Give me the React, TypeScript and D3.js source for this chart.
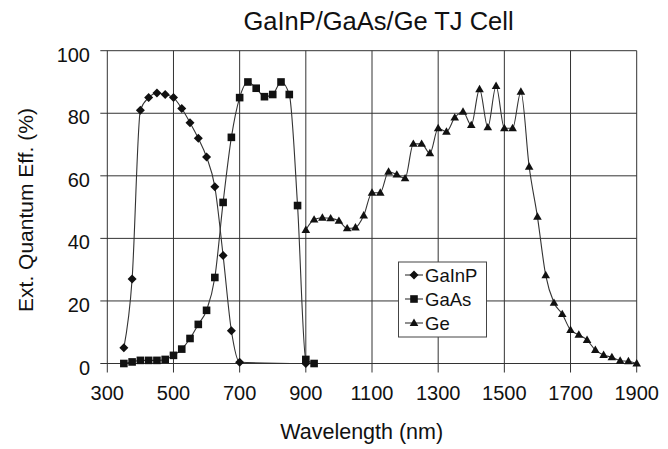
import React from "react";
import * as d3 from "d3";

const title = "GaInP/GaAs/Ge TJ Cell";
const xLabel = "Wavelength (nm)";
const yLabel = "Ext. Quantum Eff. (%)";
const xTicks = [300, 500, 700, 900, 1100, 1300, 1500, 1700, 1900];
const yTicks = [0, 20, 40, 60, 80, 100];

const gainpWl = [350, 375, 400, 425, 450, 475, 500, 525, 550, 575, 600, 625, 650, 675, 700, 900];
const gainpQe = [5, 27, 81, 85, 86.5, 86, 85, 81.5, 77, 72, 66, 56.5, 34.5, 10.5, 0.4, 0];

const gaasWl = [350, 375, 400, 425, 450, 475, 500, 525, 550, 575, 600, 625, 650, 675, 700, 725, 750, 775, 800, 825, 850, 875, 900, 925];
const gaasQe = [0, 0.5, 1, 1, 1, 1.3, 2.6, 4.6, 8, 12.5, 17, 27.5, 51.5, 72.3, 85, 90, 88, 85.3, 86, 90, 86, 50.5, 1.3, 0];

const geWl = [900, 925, 950, 975, 1000, 1025, 1050, 1075, 1100, 1125, 1150, 1175, 1200, 1225, 1250, 1275, 1300, 1325, 1350, 1375, 1400, 1425, 1450, 1475, 1500, 1525, 1550, 1575, 1600, 1625, 1650, 1675, 1700, 1725, 1750, 1775, 1800, 1825, 1850, 1875, 1900];
const geQe = [42.7, 46, 46.6, 46.4, 45.6, 43.2, 43.5, 47.3, 54.6, 54.6, 61.3, 60.4, 59.2, 70.2, 70.2, 67.2, 75.2, 74.1, 78.6, 80.5, 76.2, 87.7, 75.5, 88.7, 75.2, 75.2, 86.9, 62.9, 46.9, 28.2, 19.4, 15.8, 10.7, 9.2, 7.5, 4.3, 2.7, 2, 0.9, 0.7, 0];

const seriesNames = ["GaInP", "GaAs", "Ge"];

const W = 668;
const H = 449;
const FONT = "'Liberation Sans', Arial, Helvetica, sans-serif";

const x = d3.scaleLinear().domain([300, 1900]).range([107.3, 636.7]);
const y = d3.scaleLinear().domain([0, 100]).range([363.5, 50.7]);

function Marker({ kind, cx, cy }: { kind: string; cx: number; cy: number }) {
  if (kind === "diamond") {
    const r = 4.5;
    return <path d={`M${cx},${cy - r}L${cx + r},${cy}L${cx},${cy + r}L${cx - r},${cy}Z`} fill="#111" />;
  }
  if (kind === "square") {
    const s = 7.6;
    return <rect x={cx - s / 2} y={cy - s / 2} width={s} height={s} fill="#111" />;
  }
  const w = 8.6, h = 7.4;
  return <path d={`M${cx},${cy - h * 0.6}L${cx + w / 2},${cy + h * 0.4}L${cx - w / 2},${cy + h * 0.4}Z`} fill="#111" />;
}

export default function App() {
  const series = [
    { name: seriesNames[0], wl: gainpWl, qe: gainpQe, kind: "diamond" },
    { name: seriesNames[1], wl: gaasWl, qe: gaasQe, kind: "square" },
    { name: seriesNames[2], wl: geWl, qe: geQe, kind: "triangle" },
  ];
  const line = d3
    .line<[number, number]>()
    .x((d) => x(d[0]))
    .y((d) => y(d[1]))
    .curve(d3.curveMonotoneX);

  const [x0, x1] = x.range();
  const [y0, y1] = y.range();

  const legX = 398.5, legY = 262, legW = 88, legH = 75;

  return (
    <svg width={W} height={H} style={{ position: "absolute", left: 0, top: 0, background: "#fff" }} fontFamily={FONT}>
      <rect x={0} y={0} width={W} height={H} fill="#fff" />
      {yTicks.map((t) => (
        <line key={"gy" + t} x1={x0 - 7} x2={x1} y1={y(t)} y2={y(t)} stroke="#333" strokeWidth={1} />
      ))}
      {xTicks.map((t) => (
        <line key={"gx" + t} x1={x(t)} x2={x(t)} y1={y1} y2={y0 + 9} stroke="#333" strokeWidth={1} />
      ))}
      {yTicks.map((t) => (
        <text key={"ly" + t} x={90} y={y(t) + 4} dy="0.35em" textAnchor="end" fontSize={20} fill="#111">
          {t}
        </text>
      ))}
      {xTicks.map((t) => (
        <text key={"lx" + t} x={x(t)} y={399.5} textAnchor="middle" fontSize={20} fill="#111">
          {t}
        </text>
      ))}
      {series.map((s) => (
        <path
          key={"p" + s.name}
          d={line(s.wl.map((w, i) => [w, s.qe[i]] as [number, number])) || ""}
          fill="none"
          stroke="#333"
          strokeWidth={1.1}
        />
      ))}
      {series.map((s) =>
        s.wl.map((w, i) => <Marker key={s.name + i} kind={s.kind} cx={x(w)} cy={y(s.qe[i])} />)
      )}
      <rect x={legX} y={legY} width={legW} height={legH} fill="#fff" stroke="#444" strokeWidth={1} />
      {series.map((s, i) => {
        const cy = 275 + i * 24;
        return (
          <g key={"lg" + s.name}>
            <line x1={405} x2={423} y1={cy} y2={cy} stroke="#333" strokeWidth={1.1} />
            <Marker kind={s.kind} cx={414} cy={cy} />
            <text x={425} y={cy + 6.7} fontSize={18.5} fill="#111">
              {s.name}
            </text>
          </g>
        );
      })}
      <text x={378.5} y={30} textAnchor="middle" fontSize={25.5} fill="#111">
        {title}
      </text>
      <text x={361.7} y={439} textAnchor="middle" fontSize={21.5} fill="#111">
        {xLabel}
      </text>
      <text transform={`translate(33,210) rotate(-90)`} textAnchor="middle" fontSize={21} fill="#111">
        {yLabel}
      </text>
    </svg>
  );
}
